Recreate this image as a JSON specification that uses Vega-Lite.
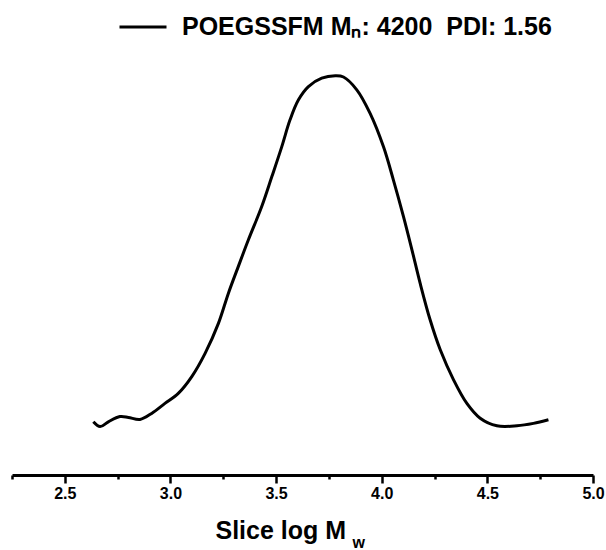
{
  "$schema": "https://vega.github.io/schema/vega-lite/v6.json",
  "width": 581,
  "height": 440,
  "autosize": {"type": "none"},
  "padding": {"left": 12, "top": 35, "right": 13, "bottom": 75},
  "background": "white",
  "config": {
    "view": {"stroke": null},
    "font": "Liberation Sans",
    "axis": {"grid": false}
  },
  "data": {
    "values": [
      {"logMw": 2.635, "signal": 0.133},
      {"logMw": 2.667, "signal": 0.121},
      {"logMw": 2.706, "signal": 0.133},
      {"logMw": 2.761, "signal": 0.146},
      {"logMw": 2.801, "signal": 0.144},
      {"logMw": 2.856, "signal": 0.139},
      {"logMw": 2.911, "signal": 0.154},
      {"logMw": 2.974, "signal": 0.179},
      {"logMw": 3.037, "signal": 0.204},
      {"logMw": 3.101, "signal": 0.246},
      {"logMw": 3.164, "signal": 0.304},
      {"logMw": 3.227, "signal": 0.379},
      {"logMw": 3.274, "signal": 0.454},
      {"logMw": 3.321, "signal": 0.521},
      {"logMw": 3.369, "signal": 0.588},
      {"logMw": 3.432, "signal": 0.671},
      {"logMw": 3.480, "signal": 0.746},
      {"logMw": 3.527, "signal": 0.821},
      {"logMw": 3.566, "signal": 0.888},
      {"logMw": 3.606, "signal": 0.938},
      {"logMw": 3.653, "signal": 0.971},
      {"logMw": 3.716, "signal": 0.992},
      {"logMw": 3.780, "signal": 0.998},
      {"logMw": 3.819, "signal": 0.995},
      {"logMw": 3.882, "signal": 0.963},
      {"logMw": 3.945, "signal": 0.904},
      {"logMw": 4.008, "signal": 0.821},
      {"logMw": 4.055, "signal": 0.738},
      {"logMw": 4.103, "signal": 0.646},
      {"logMw": 4.143, "signal": 0.563},
      {"logMw": 4.182, "signal": 0.479},
      {"logMw": 4.229, "signal": 0.388},
      {"logMw": 4.277, "signal": 0.313},
      {"logMw": 4.340, "signal": 0.238},
      {"logMw": 4.403, "signal": 0.179},
      {"logMw": 4.466, "signal": 0.142},
      {"logMw": 4.545, "signal": 0.123},
      {"logMw": 4.640, "signal": 0.123},
      {"logMw": 4.718, "signal": 0.129},
      {"logMw": 4.789, "signal": 0.138}
    ]
  },
  "layer": [
    {
      "mark": {"type": "line", "strokeWidth": 3, "interpolate": "catmull-rom"},
      "encoding": {
        "x": {
          "field": "logMw",
          "type": "quantitative",
          "scale": {"domain": [2.25, 5.0], "nice": false, "zero": false},
          "axis": {
            "orient": "bottom",
            "values": [2.5, 3.0, 3.5, 4.0, 4.5, 5.0],
            "format": ".1f",
            "domainColor": "black",
            "domainWidth": 3,
            "tickColor": "black",
            "tickWidth": 2.5,
            "tickSize": 8,
            "labelColor": "black",
            "labelFont": "Liberation Sans",
            "labelFontWeight": "bold",
            "labelFontSize": 16,
            "labelPadding": 2,
            "labelFlush": false,
            "labelOverlap": false,
            "title": "Slice log M",
            "titleColor": "black",
            "titleFont": "Liberation Sans",
            "titleFontWeight": "bold",
            "titleFontSize": 25,
            "titleAlign": "left",
            "titleBaseline": "alphabetic",
            "titleX": 203,
            "titleY": 63
          }
        },
        "y": {
          "field": "signal",
          "type": "quantitative",
          "scale": {"domain": [0, 1.1], "nice": false},
          "axis": null
        },
        "color": {
          "datum": "POEGSSFM Mₙ: 4200\u00a0\u00a0PDI: 1.56",
          "scale": {"range": ["black"]},
          "legend": {
            "orient": "none",
            "legendX": 106,
            "legendY": -33,
            "padding": 0,
            "title": null,
            "symbolType": "stroke",
            "symbolSize": 2209,
            "symbolStrokeWidth": 3,
            "symbolStrokeColor": "black",
            "labelOffset": 14,
            "labelFont": "Liberation Sans",
            "labelFontWeight": "bold",
            "labelFontSize": 25,
            "labelColor": "black",
            "labelLimit": 1000
          }
        }
      }
    },
    {
      "mark": {"type": "line", "strokeWidth": 3, "interpolate": "catmull-rom", "opacity": 0},
      "encoding": {
        "x": {
          "field": "logMw",
          "type": "quantitative",
          "scale": {"domain": [2.25, 5.0], "nice": false, "zero": false},
          "axis": {
            "orient": "bottom",
            "values": [2.25, 2.75, 3.25, 3.75, 4.25, 4.75],
            "labels": false,
            "domain": false,
            "tickColor": "black",
            "tickWidth": 2.5,
            "tickSize": 4,
            "title": "w",
            "titleColor": "black",
            "titleFont": "Liberation Sans",
            "titleFontWeight": "bold",
            "titleFontSize": 16,
            "titleAlign": "left",
            "titleBaseline": "alphabetic",
            "titleX": 340,
            "titleY": 72
          }
        },
        "y": {
          "field": "signal",
          "type": "quantitative",
          "scale": {"domain": [0, 1.1], "nice": false},
          "axis": null
        }
      }
    }
  ],
  "resolve": {"axis": {"x": "independent"}}
}
